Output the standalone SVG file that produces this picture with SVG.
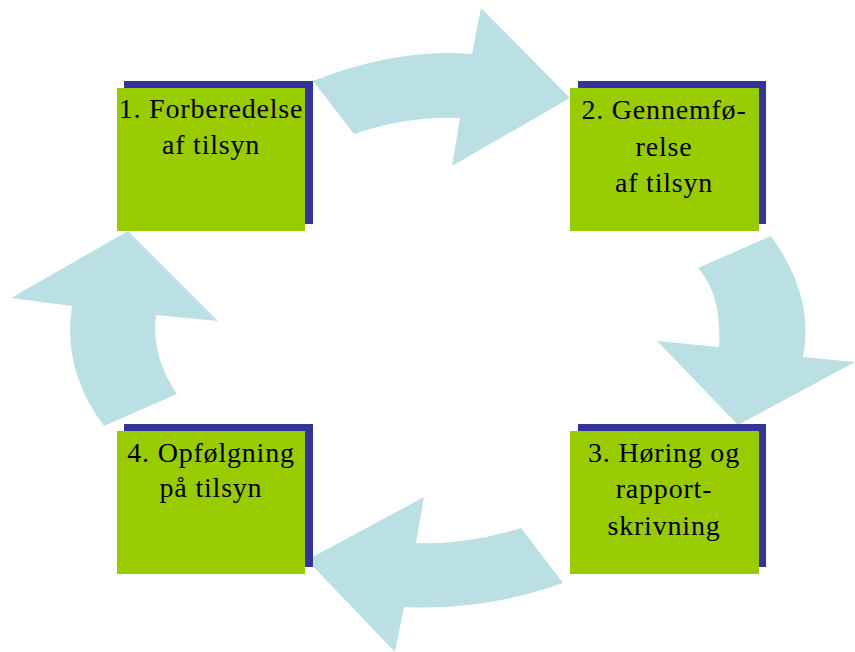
<svg xmlns="http://www.w3.org/2000/svg" width="855" height="652" viewBox="0 0 855 652">
<style>
.arrow{fill:#BBE0E3;stroke:none}
.shadow{fill:#333399}
.box{fill:#99CC00}
.lbl{font-family:"Liberation Serif","Times New Roman",serif;font-size:28px;letter-spacing:0.8px;fill:#000;text-anchor:middle}
</style>
<rect width="855" height="652" fill="#fff"/>
<g id="connectors">
<path class="arrow" d="M313,81 Q397,48 472,54 L481,8 L570,98 L452,166 L460,118 Q407,116 354,134 Z"/>
<path class="arrow" d="M771,236 Q815,297 803,357 L855,362 L738,425 L657,341 L719,347 Q722,295 698,268 Z"/>
<path class="arrow" d="M563,583 Q484,611 404,607 L395,652 L307,560 L424,497 L416,543 Q465,545 521,528 Z"/>
<path class="arrow" d="M104,426 Q62,370 72,306 L11,298 L128,231 L218,321 L156,315 Q151,356 177,394 Z"/>
</g>
<g id="node1">
<rect class="shadow" x="124" y="81" width="189" height="143"/>
<rect class="box" x="117" y="88" width="188" height="143"/>
<text class="lbl" x="211" y="118">1. Forberedelse</text>
<text class="lbl" x="211" y="154">af tilsyn</text>
</g>
<g id="node2">
<rect class="shadow" x="578" y="81" width="188" height="143"/>
<rect class="box" x="570" y="88" width="189" height="143"/>
<text class="lbl" x="664" y="119">2. Gennemfø-</text>
<text class="lbl" x="664" y="156">relse</text>
<text class="lbl" x="664" y="192">af tilsyn</text>
</g>
<g id="node3">
<rect class="shadow" x="578" y="424" width="188" height="143"/>
<rect class="box" x="570" y="431" width="189" height="143"/>
<text class="lbl" x="664" y="462">3. Høring og</text>
<text class="lbl" x="664" y="498">rapport-</text>
<text class="lbl" x="664" y="535">skrivning</text>
</g>
<g id="node4">
<rect class="shadow" x="124" y="424" width="189" height="143"/>
<rect class="box" x="117" y="431" width="188" height="143"/>
<text class="lbl" x="211" y="462">4. Opfølgning</text>
<text class="lbl" x="211" y="497">på tilsyn</text>
</g>
</svg>
